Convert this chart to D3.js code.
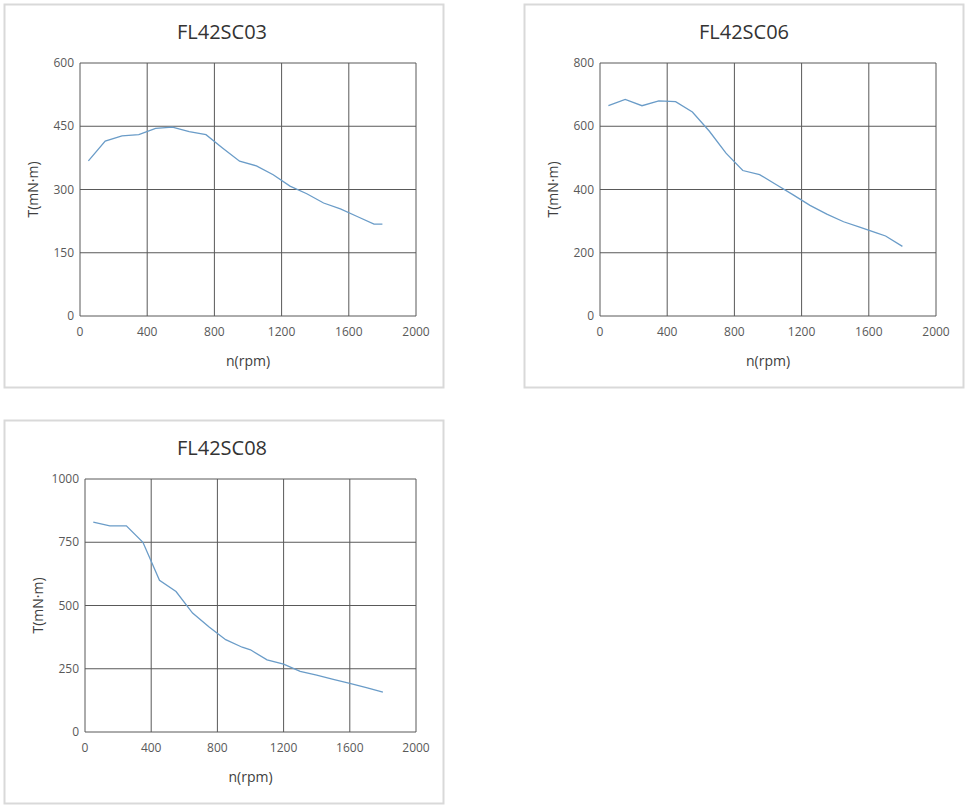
<!DOCTYPE html>
<html><head><meta charset="utf-8">
<script src="https://cdn.jsdelivr.net/npm/d3@7"></script>
<style>body{margin:0;background:#fff;font-family:"Open Sans",sans-serif}</style>
</head><body><svg id="c" width="970" height="811"></svg>
<script>
const xTicks=[0,400,800,1200,1600,2000];
const titles=["FL42SC03","FL42SC06","FL42SC08"];
const x1=[50,150,250,350,450,550,650,750,850,950,1050,1150,1250,1350,1450,1550,1650,1750,1800];
const y1=[368,415,427,430,445,448,437,430,398,367,356,335,308,290,268,254,236,218,218];
const x2=[50,150,250,350,450,550,650,750,850,950,1050,1150,1250,1350,1450,1550,1650,1700,1800];
const y2=[665,685,665,680,678,645,585,515,460,447,415,383,350,322,298,280,262,253,220];
const x3=[50,150,250,350,450,550,650,750,850,950,1000,1100,1200,1300,1400,1500,1600,1700,1800];
const y3=[830,815,815,750,600,555,470,415,365,335,325,285,268,240,225,208,192,175,158];
const yTicks1=[0,150,300,450,600], yTicks2=[0,200,400,600,800], yTicks3=[0,250,500,750,1000];
const panels=[
 {px:4,py:4,l:80,t:63,r:416,b:316,xs:x1,ys:y1,yt:yTicks1,title:titles[0]},
 {px:524,py:4,l:600,t:63,r:936,b:316,xs:x2,ys:y2,yt:yTicks2,title:titles[1]},
 {px:4,py:420,l:85,t:479,r:416,b:732,xs:x3,ys:y3,yt:yTicks3,title:titles[2]}];
const svg=d3.select("#c");
panels.forEach(p=>{
 const g=svg.append("g");
 g.append("rect").attr("x",p.px+0.5).attr("y",p.py+0.5).attr("width",439).attr("height",383).attr("fill","#fff").attr("stroke","#d9d9d9").attr("stroke-width",2);
 const x=d3.scaleLinear().domain([0,2000]).range([p.l,p.r]);
 const y=d3.scaleLinear().domain([0,p.yt[p.yt.length-1]]).range([p.b,p.t]);
 g.append("text").attr("x",(p.px+440)/2+ (p.px>100?p.px/2:0)).attr("y",p.py+35).attr("text-anchor","middle").attr("font-size",20).attr("fill","#333").text(p.title);
 g.append("g").selectAll("line").data(xTicks).join("line").attr("x1",d=>x(d)).attr("x2",d=>x(d)).attr("y1",p.t).attr("y2",p.b).attr("stroke","#595959").attr("stroke-width",1);
 g.append("g").selectAll("line").data(p.yt).join("line").attr("y1",d=>y(d)).attr("y2",d=>y(d)).attr("x1",p.l).attr("x2",p.r).attr("stroke","#595959").attr("stroke-width",1);
 g.append("g").selectAll("text").data(xTicks).join("text").attr("x",d=>x(d)).attr("y",p.b+20).attr("text-anchor","middle").attr("font-size",12).attr("fill","#595959").text(d=>d);
 g.append("g").selectAll("text").data(p.yt).join("text").attr("x",p.l-6).attr("y",d=>y(d)+4).attr("text-anchor","end").attr("font-size",12).attr("fill","#595959").text(d=>d);
 g.append("text").attr("x",(p.l+p.r)/2).attr("y",p.b+50).attr("text-anchor","middle").attr("font-size",14).attr("fill","#404040").text("n(rpm)");
 g.append("text").attr("transform",`translate(${p.l-42},${(p.t+p.b)/2}) rotate(-90)`).attr("text-anchor","middle").attr("font-size",14).attr("fill","#404040").text("T(mN·m)");
 const data=p.xs.map((v,i)=>[v,p.ys[i]]);
 g.append("path").datum(data).attr("fill","none").attr("stroke","#6a9cc8").attr("stroke-width",1.3).attr("d",d3.line().x(d=>x(d[0])).y(d=>y(d[1])));
});
</script></body></html>
